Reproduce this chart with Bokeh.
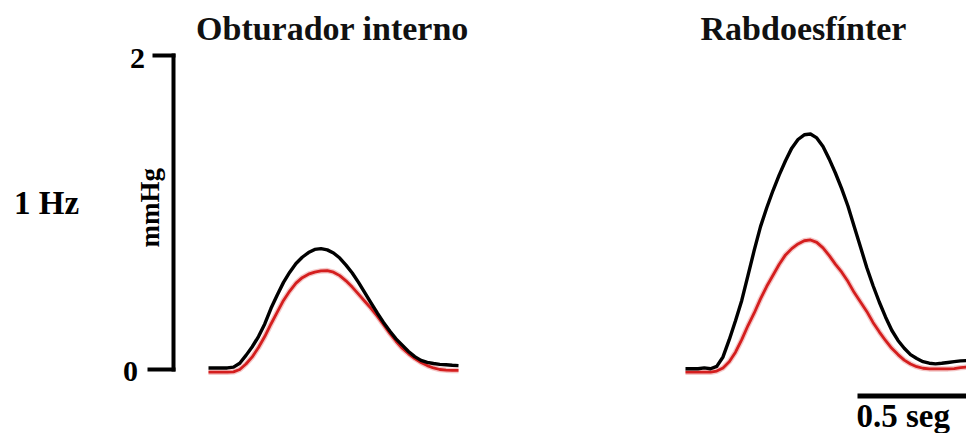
import math
from bokeh.plotting import figure
from bokeh.models import Range1d
from bokeh.core.properties import value
from bokeh.embed import file_html
from bokeh.resources import INLINE

# ---- data (time in ms from trace start, pressure in mmHg) ----
titles = ["Obturador interno", "Rabdoesfínter"]
freq_label = "1 Hz"
scale_units = "mmHg"
scale_ticks = [0, 2]
time_scale_label = "0.5 seg"
time_scale_s = 0.5

t_left_ms = [0, 25, 50, 75, 100, 125, 150, 175, 200, 225, 250, 275, 300, 325, 350,
             375, 400, 425, 450, 475, 500, 525, 550, 575, 600, 625, 650, 675, 700,
             725, 750, 775, 800, 825, 850, 875, 900, 925, 950, 975, 1000]
left_black = [0.01, 0.01, 0.01, 0.01, 0.015, 0.04, 0.09, 0.145, 0.21, 0.29, 0.39,
              0.475, 0.555, 0.62, 0.675, 0.715, 0.745, 0.765, 0.77, 0.762, 0.742, 0.71,
              0.665, 0.615, 0.555, 0.49, 0.425, 0.36, 0.30, 0.245, 0.195, 0.155, 0.115,
              0.082, 0.058, 0.045, 0.038, 0.033, 0.03, 0.027, 0.025]
left_red = [-0.017, -0.017, -0.017, -0.017, -0.015, 0.0, 0.035, 0.08, 0.14, 0.21,
            0.29, 0.365, 0.44, 0.50, 0.55, 0.585, 0.607, 0.62, 0.628, 0.63, 0.62,
            0.598, 0.565, 0.525, 0.48, 0.435, 0.39, 0.34, 0.285, 0.23, 0.18, 0.135,
            0.10, 0.07, 0.045, 0.025, 0.01, 0.0, -0.004, -0.006, -0.006]

t_right_ms = [0, 25, 50, 75, 100, 125, 150, 175, 200, 225, 250, 275, 300, 325, 350,
              375, 400, 425, 450, 475, 500, 525, 550, 575, 600, 625, 650, 675, 700,
              725, 750, 775, 800, 825, 850, 875, 900, 925, 950, 975, 1000, 1025,
              1050, 1075, 1100, 1125]
right_black = [0.005, 0.005, 0.005, 0.01, 0.005, 0.02, 0.08, 0.19, 0.31, 0.44, 0.60,
               0.76, 0.91, 1.03, 1.14, 1.24, 1.33, 1.41, 1.465, 1.495, 1.50, 1.475,
               1.42, 1.34, 1.25, 1.15, 1.04, 0.91, 0.78, 0.65, 0.535, 0.43, 0.335,
               0.25, 0.185, 0.135, 0.095, 0.07, 0.05, 0.04, 0.036, 0.04, 0.045,
               0.05, 0.055, 0.057]
right_red = [-0.017, -0.017, -0.017, -0.017, -0.017, -0.01, 0.01, 0.05, 0.11, 0.19,
             0.28, 0.36, 0.45, 0.53, 0.60, 0.67, 0.73, 0.77, 0.80, 0.82, 0.825, 0.81,
             0.775, 0.725, 0.67, 0.62, 0.56, 0.49, 0.43, 0.37, 0.30, 0.24, 0.185,
             0.135, 0.095, 0.06, 0.035, 0.018, 0.008, 0.004, 0.004, 0.004, 0.004,
             0.006, 0.012, 0.015]

# ---- layout (positions in seconds / mmHg) ----
LEFT_START = 0.0
RIGHT_START = 1.908
BLACK = "#000000"
RED = "#d41e1e"
SERIF = value("Liberation Serif")

p = figure(width=966, height=433, output_backend="svg", toolbar_location=None,
           x_range=Range1d(-0.832, 3.032), y_range=Range1d(-0.4076, 2.3503),
           x_axis_location=None, y_axis_location=None, min_border=0)
p.grid.visible = False
p.outline_line_color = None
p.background_fill_color = "white"
p.border_fill_color = "white"

def draw(t_ms, blk, red, start):
    xs = [start + t / 1000.0 for t in t_ms]
    p.line(xs, red, line_color=RED, line_width=5.5, line_alpha=0.25, line_join="round")
    p.line(xs, red, line_color=RED, line_width=2.8, line_join="round")
    p.line(xs, blk, line_color=BLACK, line_width=3.4, line_join="round")

draw(t_left_ms, left_black, left_red, LEFT_START)
draw(t_right_ms, right_black, right_red, RIGHT_START)

# vertical pressure scale bar
bar_x = -0.14
p.segment(x0=[bar_x], y0=[scale_ticks[0] - 0.012], x1=[bar_x], y1=[scale_ticks[1] + 0.012],
          line_color=BLACK, line_width=4, line_cap="butt")
p.segment(x0=[-0.244, -0.224], y0=scale_ticks, x1=[bar_x + 0.008] * 2, y1=scale_ticks,
          line_color=BLACK, line_width=4, line_cap="butt")
p.text(x=[-0.312, -0.284], y=[scale_ticks[0] - 0.012, scale_ticks[1] - 0.02],
       text=[str(v) for v in scale_ticks], text_font=SERIF, text_font_style="bold",
       text_font_size="30px", text_align="center", text_baseline="middle",
       text_color=BLACK)
p.text(x=[-0.236], y=[1.03], text=[scale_units], angle=math.pi / 2,
       text_font=SERIF, text_font_style="bold", text_font_size="27px",
       text_align="center", text_baseline="middle", text_color=BLACK)

# frequency label
p.text(x=[-0.648], y=[1.06], text=[freq_label], text_font=SERIF,
       text_font_style="bold", text_font_size="33px", text_align="center",
       text_baseline="middle", text_color=BLACK)

# panel titles
p.text(x=[0.496, 2.38], y=[2.175, 2.175], text=titles, text_font=SERIF,
       text_font_style="bold", text_font_size="34px", text_align="center",
       text_baseline="middle", text_color="#111111")

# horizontal time scale bar
tb_x0 = 2.596
p.segment(x0=[tb_x0], y0=[-0.169], x1=[tb_x0 + time_scale_s], y1=[-0.169],
          line_color=BLACK, line_width=5, line_cap="butt")
p.text(x=[tb_x0 - 0.004], y=[-0.296], text=[time_scale_label], text_font=SERIF,
       text_font_style="bold", text_font_size="33px", text_align="left",
       text_baseline="middle", text_color=BLACK)

with open("out.html", "w", encoding="utf-8") as f:
    f.write(file_html(p, INLINE))
